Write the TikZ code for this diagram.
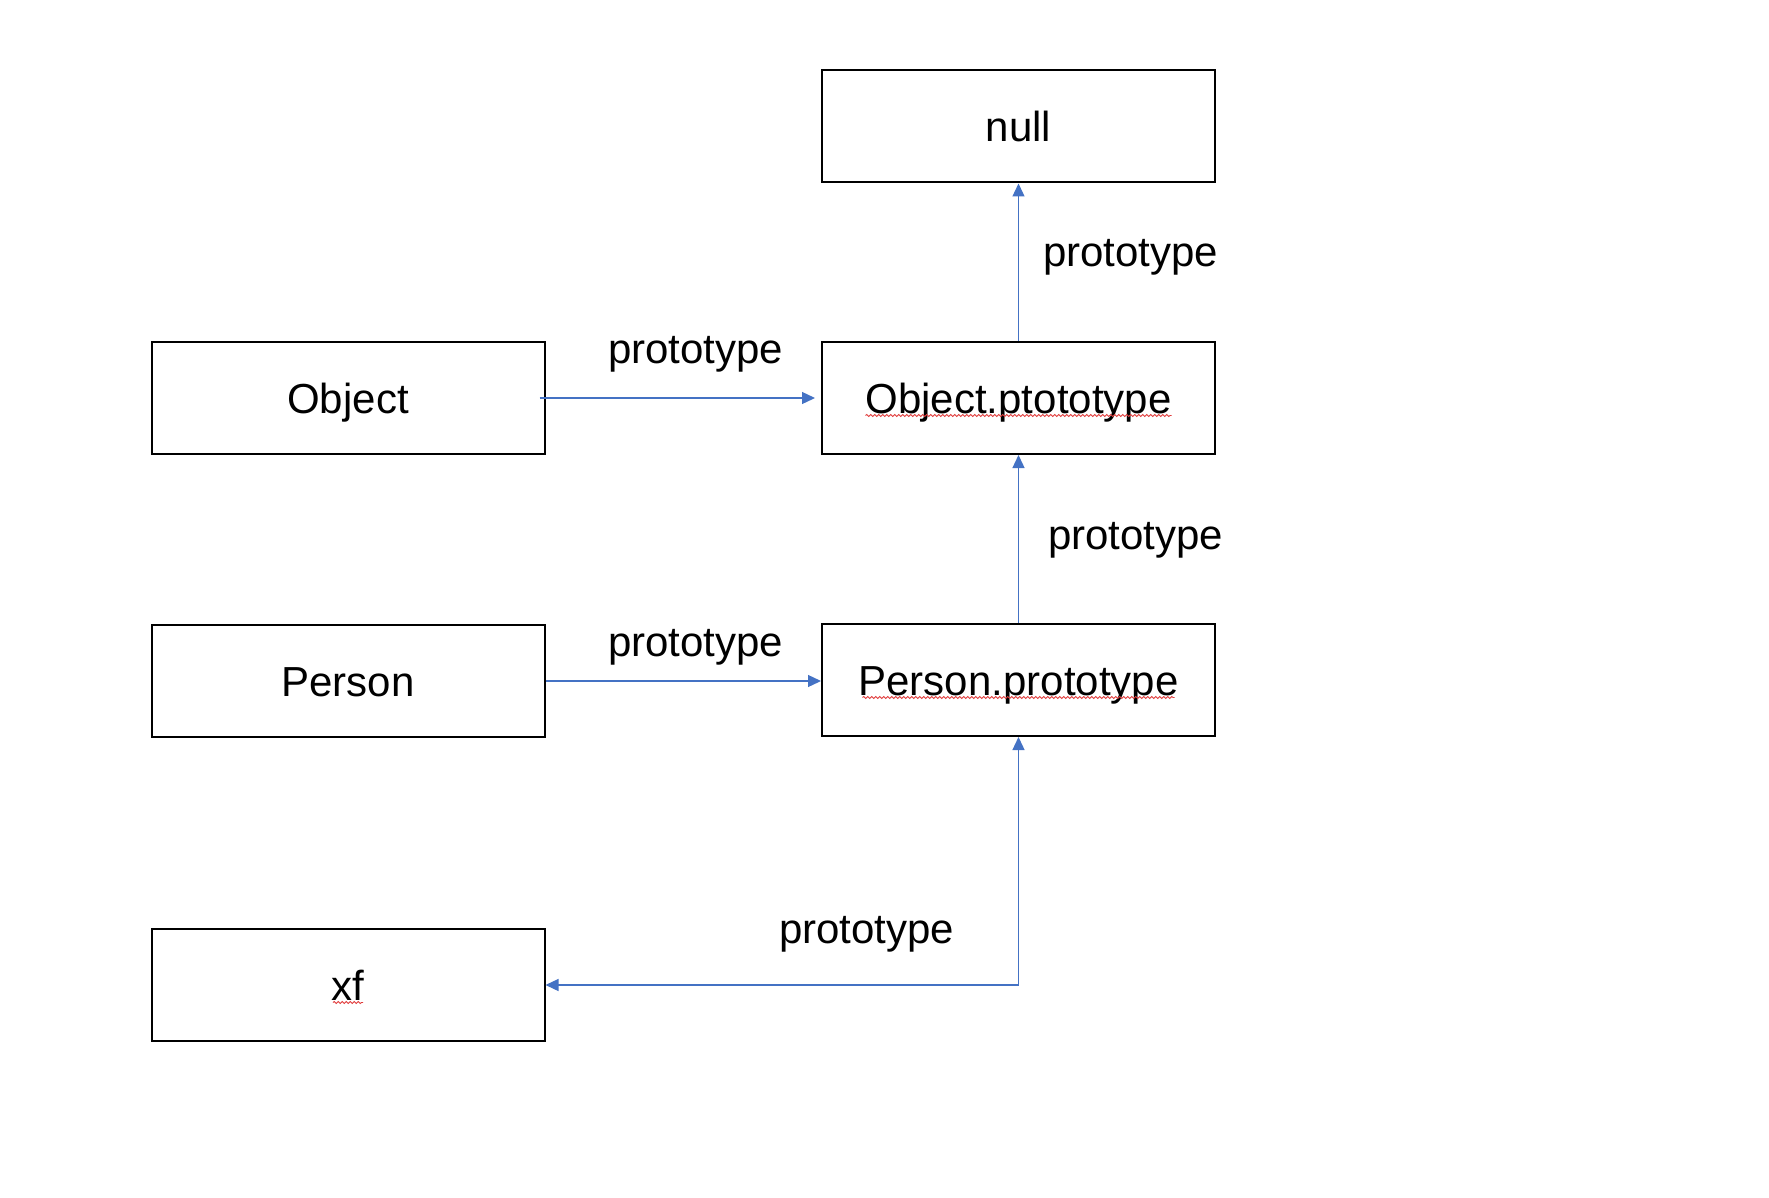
\documentclass[tikz,border=0pt]{standalone}
\usepackage{fontspec}
\setmainfont{Liberation Sans}
\usetikzlibrary{arrows.meta,calc,decorations.pathmorphing}
\definecolor{linkblue}{HTML}{4472C4}
\definecolor{spellred}{HTML}{E03C3C}
\begin{document}
\begin{tikzpicture}[x=1pt,y=-1pt,
  box/.style={draw=black,line width=2pt,rectangle,minimum width=393pt,minimum height=112pt,
    inner sep=0pt,text height=31pt,text depth=0pt,font=\fontsize{42}{50}\selectfont},
  lbl/.style={inner sep=0pt,anchor=base west,font=\fontsize{42}{50}\selectfont},
  arr/.style={draw=linkblue,line width=1.3pt,-{Triangle[length=13pt,width=12pt]}},
  biarr/.style={draw=linkblue,line width=1.3pt,{Triangle[length=13pt,width=12pt]}-{Triangle[length=13pt,width=12pt]}},
  squig/.style={draw=spellred,line width=0.9pt,decorate,decoration={snake,segment length=4pt,amplitude=1pt}}]
\useasboundingbox (0,0) rectangle (1769,1198);
% boxes
\node[box] (nl) at (1018.5,126.5) {null};
\node[box] (op) at (1018.5,398) {Object.ptototype};
\node[box] (ob) at (348,398) {Object};
\node[box] (pe) at (348,681) {Person};
\node[box] (pp) at (1018.5,680) {Person.prototype};
\node[box] (xf) at (348,985) {xf};
% spell-check underlines
\draw[squig] ($(op.center)+(-153,17.5)$) -- ($(op.center)+(153,17.5)$);
\draw[squig] ($(pp.center)+(-156,17.5)$) -- ($(pp.center)+(156,17.5)$);
\draw[squig] ($(xf.center)+(-15,17.5)$) -- ($(xf.center)+(15,17.5)$);
% connectors
\draw[arr] (op.north) -- (nl.south);
\draw[arr] (pp.north) -- (op.south);
\draw[arr,shorten >=6pt] ([xshift=-6pt]ob.east) -- (op.west);
\draw[arr] (pe.east) -- (pe.east -| pp.west);
\draw[biarr] (pp.south) |- (xf.east);
% labels
\node[lbl] (l1) at (1043,267) {prototype};
\node[lbl] (l2) at (1048,549) {prototype};
\node[lbl] (l3) at (608,363) {prototype};
\node[lbl] (l4) at (608,656) {prototype};
\node[lbl] (l5) at (779,943) {prototype};
\end{tikzpicture}
\end{document}
